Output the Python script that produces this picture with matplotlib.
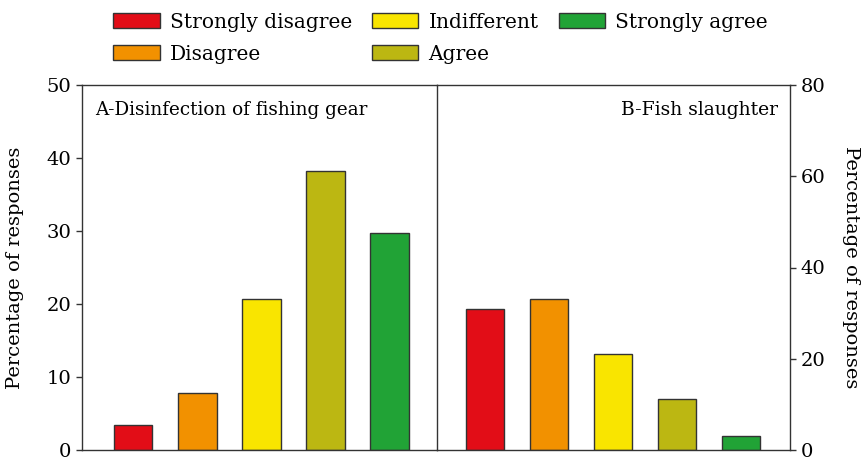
# Two-panel bar chart of survey responses (A: disinfection, B: slaughter)

import numpy as np
import matplotlib.pyplot as plt
from matplotlib.patches import Patch

plt.rcParams['font.family'] = ['DejaVu Serif']

# categories and colours
categories = ['Strongly disagree', 'Disagree', 'Indifferent', 'Agree', 'Strongly agree']
colors = ['#E20D17', '#F29100', '#F9E500', '#BCB712', '#21A336']

# percentage of responses
disinfection = [3.4, 7.8, 20.7, 38.2, 29.7]
slaughter = [30.8, 33.1, 21.1, 11.1, 3.1]

edge = '#333333'
fs = 14

fig = plt.figure(figsize=(8.65, 4.61), dpi=100)
ax1 = fig.add_axes([82/865, 11/461, 355/865, 365/461])
ax2 = fig.add_axes([437/865, 11/461, 353/865, 365/461])

x = np.arange(len(categories))

# panel A
ax1.bar(x, disinfection, width=0.6, color=colors, edgecolor=edge, linewidth=1)
ax1.set_xlim(-0.8, 4.74)
ax1.set_ylim(0, 50)
ax1.set_yticks(range(0, 51, 10))
ax1.set_xticks([])
ax1.set_ylabel('Percentage of responses', fontsize=fs, labelpad=16)
ax1.spines['right'].set_visible(False)
ax1.text(0.037, 0.955, 'A-Disinfection of fishing gear', transform=ax1.transAxes,
         ha='left', va='top', fontsize=13.2)

# panel B (its left spine is the divider between the panels)
ax2.bar(x, slaughter, width=0.6, color=colors, edgecolor=edge, linewidth=1)
ax2.set_xlim(-0.75, 4.77)
ax2.set_ylim(0, 80)
ax2.set_yticks(range(0, 81, 20))
ax2.set_xticks([])
ax2.yaxis.tick_right()
ax2.yaxis.set_label_position('right')
ax2.set_ylabel('Percentage of responses', fontsize=fs, rotation=270, labelpad=25)
ax2.text(0.965, 0.955, 'B-Fish slaughter', transform=ax2.transAxes,
         ha='right', va='top', fontsize=13.5)

for ax in (ax1, ax2):
    for s in ax.spines.values():
        s.set_color(edge)
        s.set_linewidth(1)
    ax.tick_params(axis='y', labelsize=fs, length=4, color=edge, width=1)

# legend on top, filled column by column
handles = [Patch(facecolor=c, edgecolor=edge, linewidth=1) for c in colors]
fig.legend(handles, categories, loc='upper left', bbox_to_anchor=(0.11, 1.012),
           ncol=3, frameon=False, fontsize=14.5, handlelength=2.3, handleheight=0.75,
           handletextpad=0.5, columnspacing=1.0, labelspacing=0.65)

fig.savefig('out.png', dpi=100)
